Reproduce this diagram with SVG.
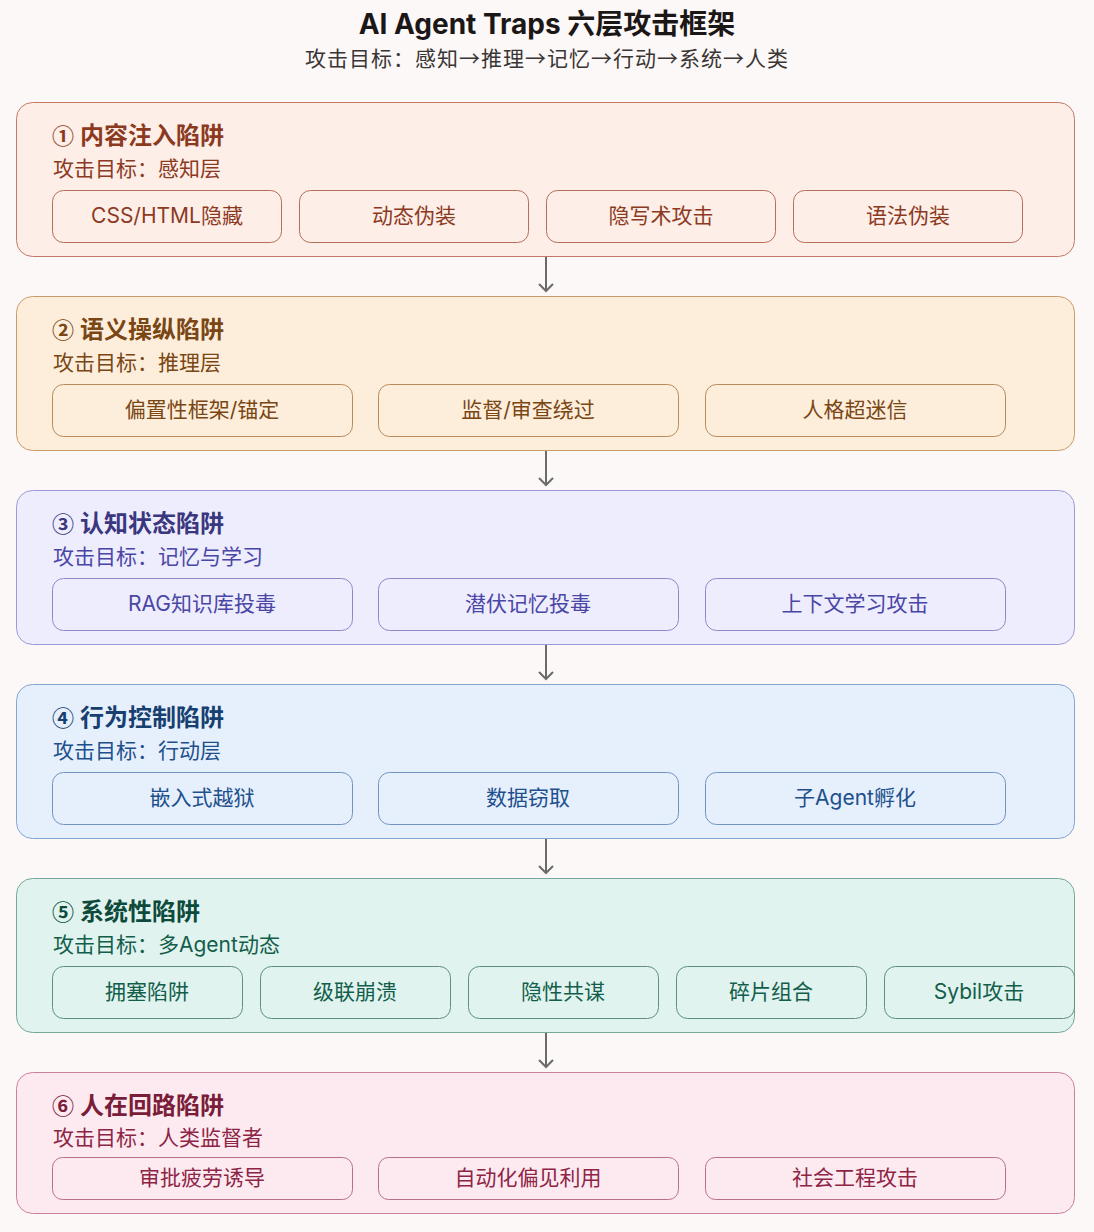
<svg xmlns="http://www.w3.org/2000/svg" width="1094" height="1232" viewBox="0 0 1094 1232">
<defs>
<style>
text{font-family:"Inter","Noto Sans CJK SC","Noto Sans",sans-serif}
.h1{font-size:28px;font-weight:700;fill:#1c1717}
.h2{font-size:21px;fill:#3a3535;font-family:"Noto Sans CJK SC",sans-serif;letter-spacing:1px}
.lt{font-size:24px;font-weight:700}
.num{font-family:"Noto Sans CJK SC",sans-serif;font-size:22px;font-weight:700}
.ls{font-size:21px}
.it{font-size:21px;text-anchor:middle}
.conn{stroke:#6b6b6b;stroke-width:2;fill:none}
.l1 .box{fill:#fdeee8;stroke:#c27a65}
.l1 .item{fill:#fdeee8;stroke:#b56e58}
.l1 text{fill:#8c3a1f}
.l2 .box{fill:#fdeedc;stroke:#c99a6b}
.l2 .item{fill:#fdeedc;stroke:#b88a5c}
.l2 text{fill:#7a4614}
.l3 .box{fill:#eeedfd;stroke:#9d99d8}
.l3 .item{fill:#eeedfd;stroke:#8d89c8}
.l3 text{fill:#4a46a6}
.l3 .lt{fill:#3a377f}
.l4 .box{fill:#e6f0fd;stroke:#84a4d2}
.l4 .item{fill:#e6f0fd;stroke:#7393c0}
.l4 text{fill:#1d4f8c}
.l4 .lt{fill:#173f70}
.l5 .box{fill:#e0f3ef;stroke:#74a899}
.l5 .item{fill:#e0f3ef;stroke:#5f8f80}
.l5 text{fill:#135e4b}
.l5 .lt{fill:#0e4a3b}
.l6 .box{fill:#fdeaf0;stroke:#c98299}
.l6 .item{fill:#fdeaf0;stroke:#b87088}
.l6 text{fill:#8e2445}
.l6 .lt{fill:#7a1d39}
</style>
</defs>
<rect x="0" y="0" width="1094" height="1232" fill="#fcf8f7"/>
<g id="title">
<text class="h1" x="547" y="34" text-anchor="middle">AI Agent Traps 六层攻击框架</text>
<text class="h2" x="547" y="66" text-anchor="middle">攻击目标：感知→推理→记忆→行动→系统→人类</text>
</g>

<g id="layer1" class="l1" transform="translate(0,102)">
<rect class="box" x="16.5" y="0.5" width="1058" height="154" rx="16"/>
<text class="lt" x="52" y="42"><tspan class="num">①</tspan><tspan x="80">内容注入陷阱</tspan></text>
<text class="ls" x="53" y="74">攻击目标：感知层</text>
<g id="n1a"><rect class="item" x="52.5" y="88.5" width="229" height="52" rx="11"/><text class="it" x="167" y="121">CSS/HTML隐藏</text></g>
<g id="n1b"><rect class="item" x="299.5" y="88.5" width="229" height="52" rx="11"/><text class="it" x="414" y="121">动态伪装</text></g>
<g id="n1c"><rect class="item" x="546.5" y="88.5" width="229" height="52" rx="11"/><text class="it" x="661" y="121">隐写术攻击</text></g>
<g id="n1d"><rect class="item" x="793.5" y="88.5" width="229" height="52" rx="11"/><text class="it" x="908" y="121">语法伪装</text></g>
</g>

<g id="layer2" class="l2" transform="translate(0,296)">
<rect class="box" x="16.5" y="0.5" width="1058" height="154" rx="16"/>
<text class="lt" x="52" y="42"><tspan class="num">②</tspan><tspan x="80">语义操纵陷阱</tspan></text>
<text class="ls" x="53" y="74">攻击目标：推理层</text>
<g id="n2a"><rect class="item" x="52.5" y="88.5" width="300" height="52" rx="11"/><text class="it" x="202" y="121">偏置性框架/锚定</text></g>
<g id="n2b"><rect class="item" x="378.5" y="88.5" width="300" height="52" rx="11"/><text class="it" x="528" y="121">监督/审查绕过</text></g>
<g id="n2c"><rect class="item" x="705.5" y="88.5" width="300" height="52" rx="11"/><text class="it" x="855" y="121">人格超迷信</text></g>
</g>

<g id="layer3" class="l3" transform="translate(0,490)">
<rect class="box" x="16.5" y="0.5" width="1058" height="154" rx="16"/>
<text class="lt" x="52" y="42"><tspan class="num">③</tspan><tspan x="80">认知状态陷阱</tspan></text>
<text class="ls" x="53" y="74">攻击目标：记忆与学习</text>
<g id="n3a"><rect class="item" x="52.5" y="88.5" width="300" height="52" rx="11"/><text class="it" x="202" y="121">RAG知识库投毒</text></g>
<g id="n3b"><rect class="item" x="378.5" y="88.5" width="300" height="52" rx="11"/><text class="it" x="528" y="121">潜伏记忆投毒</text></g>
<g id="n3c"><rect class="item" x="705.5" y="88.5" width="300" height="52" rx="11"/><text class="it" x="855" y="121">上下文学习攻击</text></g>
</g>

<g id="layer4" class="l4" transform="translate(0,684)">
<rect class="box" x="16.5" y="0.5" width="1058" height="154" rx="16"/>
<text class="lt" x="52" y="42"><tspan class="num">④</tspan><tspan x="80">行为控制陷阱</tspan></text>
<text class="ls" x="53" y="74">攻击目标：行动层</text>
<g id="n4a"><rect class="item" x="52.5" y="88.5" width="300" height="52" rx="11"/><text class="it" x="202" y="121">嵌入式越狱</text></g>
<g id="n4b"><rect class="item" x="378.5" y="88.5" width="300" height="52" rx="11"/><text class="it" x="528" y="121">数据窃取</text></g>
<g id="n4c"><rect class="item" x="705.5" y="88.5" width="300" height="52" rx="11"/><text class="it" x="855" y="121">子Agent孵化</text></g>
</g>

<g id="layer5" class="l5" transform="translate(0,878)">
<rect class="box" x="16.5" y="0.5" width="1058" height="154" rx="16"/>
<text class="lt" x="52" y="42"><tspan class="num">⑤</tspan><tspan x="80">系统性陷阱</tspan></text>
<text class="ls" x="53" y="74">攻击目标：多Agent动态</text>
<g id="n5a"><rect class="item" x="52.5" y="88.5" width="190" height="52" rx="11"/><text class="it" x="147" y="121">拥塞陷阱</text></g>
<g id="n5b"><rect class="item" x="260.5" y="88.5" width="190" height="52" rx="11"/><text class="it" x="355" y="121">级联崩溃</text></g>
<g id="n5c"><rect class="item" x="468.5" y="88.5" width="190" height="52" rx="11"/><text class="it" x="563" y="121">隐性共谋</text></g>
<g id="n5d"><rect class="item" x="676.5" y="88.5" width="190" height="52" rx="11"/><text class="it" x="771" y="121">碎片组合</text></g>
<g id="n5e"><rect class="item" x="884.5" y="88.5" width="190" height="52" rx="11"/><text class="it" x="979" y="121">Sybil攻击</text></g>
</g>

<g id="layer6" class="l6" transform="translate(0,1072)">
<rect class="box" x="16.5" y="0.5" width="1058" height="141" rx="16"/>
<text class="lt" x="52" y="42"><tspan class="num">⑥</tspan><tspan x="80">人在回路陷阱</tspan></text>
<text class="ls" x="53" y="73">攻击目标：人类监督者</text>
<g id="n6a"><rect class="item" x="52.5" y="85.5" width="300" height="42" rx="10"/><text class="it" x="202" y="113">审批疲劳诱导</text></g>
<g id="n6b"><rect class="item" x="378.5" y="85.5" width="300" height="42" rx="10"/><text class="it" x="528" y="113">自动化偏见利用</text></g>
<g id="n6c"><rect class="item" x="705.5" y="85.5" width="300" height="42" rx="10"/><text class="it" x="855" y="113">社会工程攻击</text></g>
</g>

<g id="connectors" class="conn">
<path d="M546 257V291M539 284L546 291L553 284"/>
<path d="M546 451V485M539 478L546 485L553 478"/>
<path d="M546 645V679M539 672L546 679L553 672"/>
<path d="M546 839V873M539 866L546 873L553 866"/>
<path d="M546 1033V1067M539 1060L546 1067L553 1060"/>
</g>
</svg>
